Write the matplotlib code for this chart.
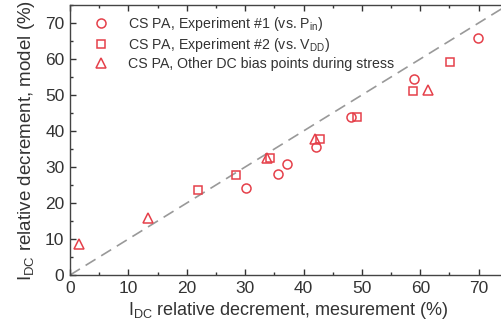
import numpy as np
import matplotlib.pyplot as plt
from matplotlib.ticker import MultipleLocator

plt.rcParams['font.family'] = ['Liberation Sans', 'DejaVu Sans']

# experiment #1 (vs. Pin)
exp1_x = [30.1, 35.7, 37.2, 42.2, 48.1, 59.0, 69.9]
exp1_y = [24.1, 28.1, 30.9, 35.5, 43.9, 54.5, 65.9]
# experiment #2 (vs. VDD)
exp2_x = [22.0, 28.4, 34.2, 42.8, 49.2, 58.7, 65.1]
exp2_y = [23.7, 27.9, 32.4, 37.8, 43.9, 51.1, 59.1]
# other DC bias points during stress
other_x = [1.6, 13.4, 33.7, 41.9, 61.4]
other_y = [8.6, 15.8, 32.5, 37.8, 51.3]

labels = ['CS PA, Experiment #1 (vs. P$_{\\mathregular{in}}$)',
          'CS PA, Experiment #2 (vs. V$_{\\mathregular{DD}}$)',
          'CS PA, Other DC bias points during stress']

red = '#e5404a'
txt = '#333333'

fig = plt.figure(figsize=(5.01, 3.29), dpi=100)
ax = fig.add_axes([0.1397, 0.164, 0.874, 0.821])

ax.plot([0, 75], [0, 75], ls=(0, (7, 4)), color='#999999', lw=1.2, zorder=1)
ax.plot(exp1_x, exp1_y, 'o', mfc='none', mec=red, ms=6.5, mew=1.1, ls='none', label=labels[0])
ax.plot(exp2_x, exp2_y, 's', mfc='none', mec=red, ms=6, mew=1.1, ls='none', label=labels[1])
ax.plot(other_x, other_y, '^', mfc='none', mec=red, ms=6.5, mew=1.1, ls='none', label=labels[2])

ax.set_xlim(0, 75)
ax.set_ylim(0, 75)
ax.xaxis.set_major_locator(MultipleLocator(10))
ax.xaxis.set_minor_locator(MultipleLocator(5))
ax.yaxis.set_major_locator(MultipleLocator(10))
ax.yaxis.set_minor_locator(MultipleLocator(5))
ax.tick_params(which='both', direction='in', top=True, right=True, colors=txt,
               labelsize=12.5, labelcolor=txt)
ax.tick_params(which='major', length=4, width=1, pad=4)
ax.tick_params(which='minor', length=2, width=1)
for s in ax.spines.values():
    s.set_color('#444444')
    s.set_linewidth(1)

ax.set_xlabel('I$_{\\mathregular{DC}}$ relative decrement, mesurement (%)', fontsize=13, color=txt, labelpad=3)
ax.set_ylabel('I$_{\\mathregular{DC}}$ relative decrement, model (%)', fontsize=13.5, color=txt, labelpad=6)

leg = ax.legend(loc='upper left', frameon=False, fontsize=10.2, handletextpad=0.9,
                borderaxespad=0.3, labelspacing=0.2, bbox_to_anchor=(0.015, 1.0))
for t in leg.get_texts():
    t.set_color(txt)

fig.savefig('out.png', dpi=100)
